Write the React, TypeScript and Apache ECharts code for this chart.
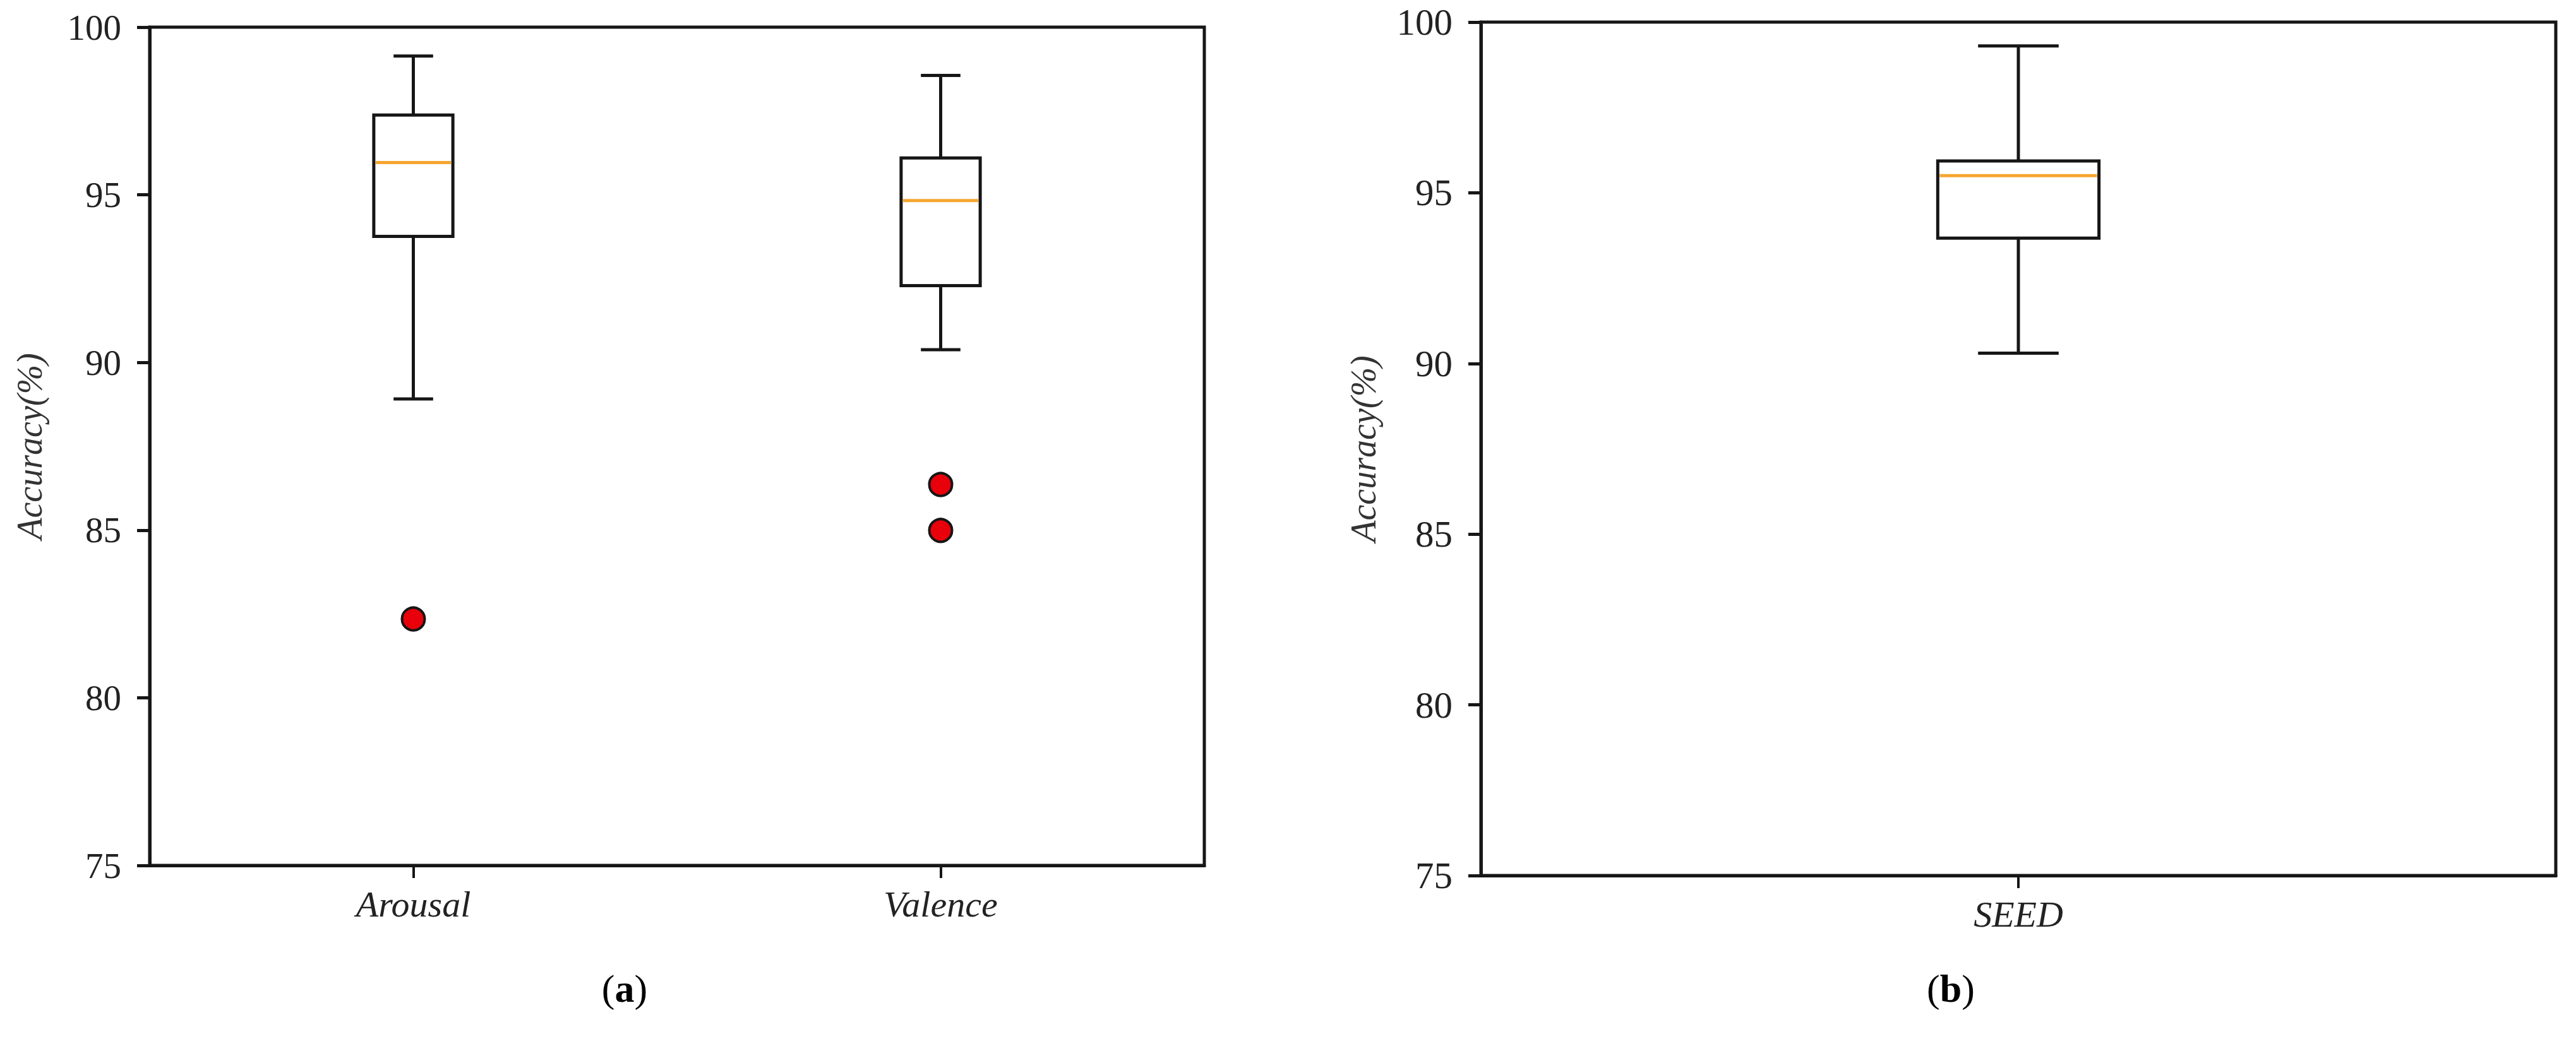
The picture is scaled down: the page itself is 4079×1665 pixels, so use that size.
import React, { useEffect, useRef } from "react";
import * as echarts from "echarts";

const FONT = "Liberation Serif";
const INK = "#161616";

// Panel (a)
const categoriesA = ["Arousal", "Valence"];
// [low whisker, Q1, median, Q3, high whisker]
const arousalBox = [88.91, 93.76, 95.96, 97.38, 99.14];
const valenceBox = [90.38, 92.29, 94.83, 96.1, 98.56];
const arousalOutliers = [82.35];
const valenceOutliers = [86.36, 84.99];

// Panel (b)
const categoriesB = ["SEED"];
const seedBox = [90.3, 93.67, 95.5, 95.93, 99.3];

const yTicks = { min: 75, max: 100, interval: 5 };
const yAxisTitle = "Accuracy(%)";
const panelLabels = ["a", "b"];

function boxRender(params: any, api: any) {
  const idx = api.value(0);
  const low = api.value(1);
  const q1 = api.value(2);
  const med = api.value(3);
  const q3 = api.value(4);
  const high = api.value(5);
  const band = api.size([1, 0])[0];
  const bw = band * 0.15;
  const pLow = api.coord([idx, low]);
  const pQ1 = api.coord([idx, q1]);
  const pMed = api.coord([idx, med]);
  const pQ3 = api.coord([idx, q3]);
  const pHigh = api.coord([idx, high]);
  const x = pMed[0];
  const lineStyle = { stroke: INK, lineWidth: 5, fill: "none" };
  return {
    type: "group",
    children: [
      { type: "line", shape: { x1: x, y1: pQ3[1], x2: x, y2: pHigh[1] }, style: lineStyle },
      { type: "line", shape: { x1: x, y1: pQ1[1], x2: x, y2: pLow[1] }, style: lineStyle },
      { type: "line", shape: { x1: x - bw / 4, y1: pHigh[1], x2: x + bw / 4, y2: pHigh[1] }, style: lineStyle },
      { type: "line", shape: { x1: x - bw / 4, y1: pLow[1], x2: x + bw / 4, y2: pLow[1] }, style: lineStyle },
      {
        type: "rect",
        shape: { x: x - bw / 2, y: pQ3[1], width: bw, height: pQ1[1] - pQ3[1] },
        style: { stroke: INK, lineWidth: 5, fill: "#fff" },
      },
      {
        type: "line",
        shape: { x1: x - bw / 2 + 3, y1: pMed[1], x2: x + bw / 2 - 3, y2: pMed[1] },
        style: { stroke: "#f5a630", lineWidth: 5 },
      },
    ],
  };
}

function makeXAxis(gridIndex: number, data: string[]) {
  return {
    type: "category",
    gridIndex,
    data,
    boundaryGap: true,
    axisLine: { show: true, lineStyle: { color: INK, width: 5 } },
    axisTick: { show: true, alignWithLabel: true, length: 20, lineStyle: { color: INK, width: 4 } },
    axisLabel: { fontFamily: FONT, fontStyle: "italic", fontSize: 58, color: "#222", margin: 32 },
    splitLine: { show: false },
  };
}

function makeYAxis(gridIndex: number, nameGap: number, fontSize: number) {
  return {
    type: "value",
    gridIndex,
    min: yTicks.min,
    max: yTicks.max,
    interval: yTicks.interval,
    name: yAxisTitle,
    nameLocation: "middle",
    nameGap,
    nameTextStyle: { fontFamily: FONT, fontStyle: "italic", fontSize: 56, color: "#333" },
    axisLine: { show: true, lineStyle: { color: INK, width: 5 } },
    axisTick: { show: true, inside: false, length: 20, lineStyle: { color: INK, width: 5 } },
    axisLabel: { fontFamily: FONT, fontSize, color: "#222", margin: 45 },
    splitLine: { show: false },
  };
}

export default function App() {
  const ref = useRef<HTMLDivElement>(null);
  useEffect(() => {
    if (!ref.current) return;
    const chart = echarts.init(ref.current, undefined, { renderer: "svg" });
    const option: any = {
      animation: false,
      backgroundColor: "#fff",
      grid: [
        { left: 237, top: 43, width: 1670, height: 1328, show: true, borderColor: INK, borderWidth: 5, backgroundColor: "transparent" },
        { left: 2345, top: 35, width: 1702, height: 1352, show: true, borderColor: INK, borderWidth: 5, backgroundColor: "transparent" },
      ],
      xAxis: [makeXAxis(0, categoriesA), makeXAxis(1, categoriesB)],
      yAxis: [makeYAxis(0, 162, 57), makeYAxis(1, 158, 59)],
      series: [
        {
          type: "custom",
          xAxisIndex: 0,
          yAxisIndex: 0,
          renderItem: boxRender,
          encode: { x: 0, y: [1, 2, 3, 4, 5] },
          data: [
            [0, ...arousalBox],
            [1, ...valenceBox],
          ],
          z: 3,
        },
        {
          type: "scatter",
          xAxisIndex: 0,
          yAxisIndex: 0,
          symbol: "circle",
          symbolSize: 36,
          itemStyle: { color: "#e8000b", borderColor: INK, borderWidth: 4, opacity: 1 },
          data: [
            ...arousalOutliers.map((v) => [categoriesA[0], v]),
            ...valenceOutliers.map((v) => [categoriesA[1], v]),
          ],
          z: 4,
        },
        {
          type: "custom",
          xAxisIndex: 1,
          yAxisIndex: 1,
          renderItem: boxRender,
          encode: { x: 0, y: [1, 2, 3, 4, 5] },
          data: [[0, ...seedBox]],
          z: 3,
        },
      ],
      graphic: [
        {
          type: "text",
          x: 989,
          y: 1566,
          style: {
            text: `{n|(}{b|${panelLabels[0]}}{n|)}`,
            rich: {
              n: { fontFamily: FONT, fontSize: 62, color: "#111" },
              b: { fontFamily: FONT, fontSize: 62, fontWeight: "bold", color: "#111" },
            },
            align: "center",
            verticalAlign: "middle",
          },
        },
        {
          type: "text",
          x: 3089,
          y: 1566,
          style: {
            text: `{n|(}{b|${panelLabels[1]}}{n|)}`,
            rich: {
              n: { fontFamily: FONT, fontSize: 62, color: "#111" },
              b: { fontFamily: FONT, fontSize: 62, fontWeight: "bold", color: "#111" },
            },
            align: "center",
            verticalAlign: "middle",
          },
        },
      ],
    };
    chart.setOption(option);
    return () => chart.dispose();
  }, []);
  return (
    <div
      ref={ref}
      style={{ position: "fixed", left: 0, top: 0, width: 4079, height: 1665, background: "#fff" }}
    />
  );
}
